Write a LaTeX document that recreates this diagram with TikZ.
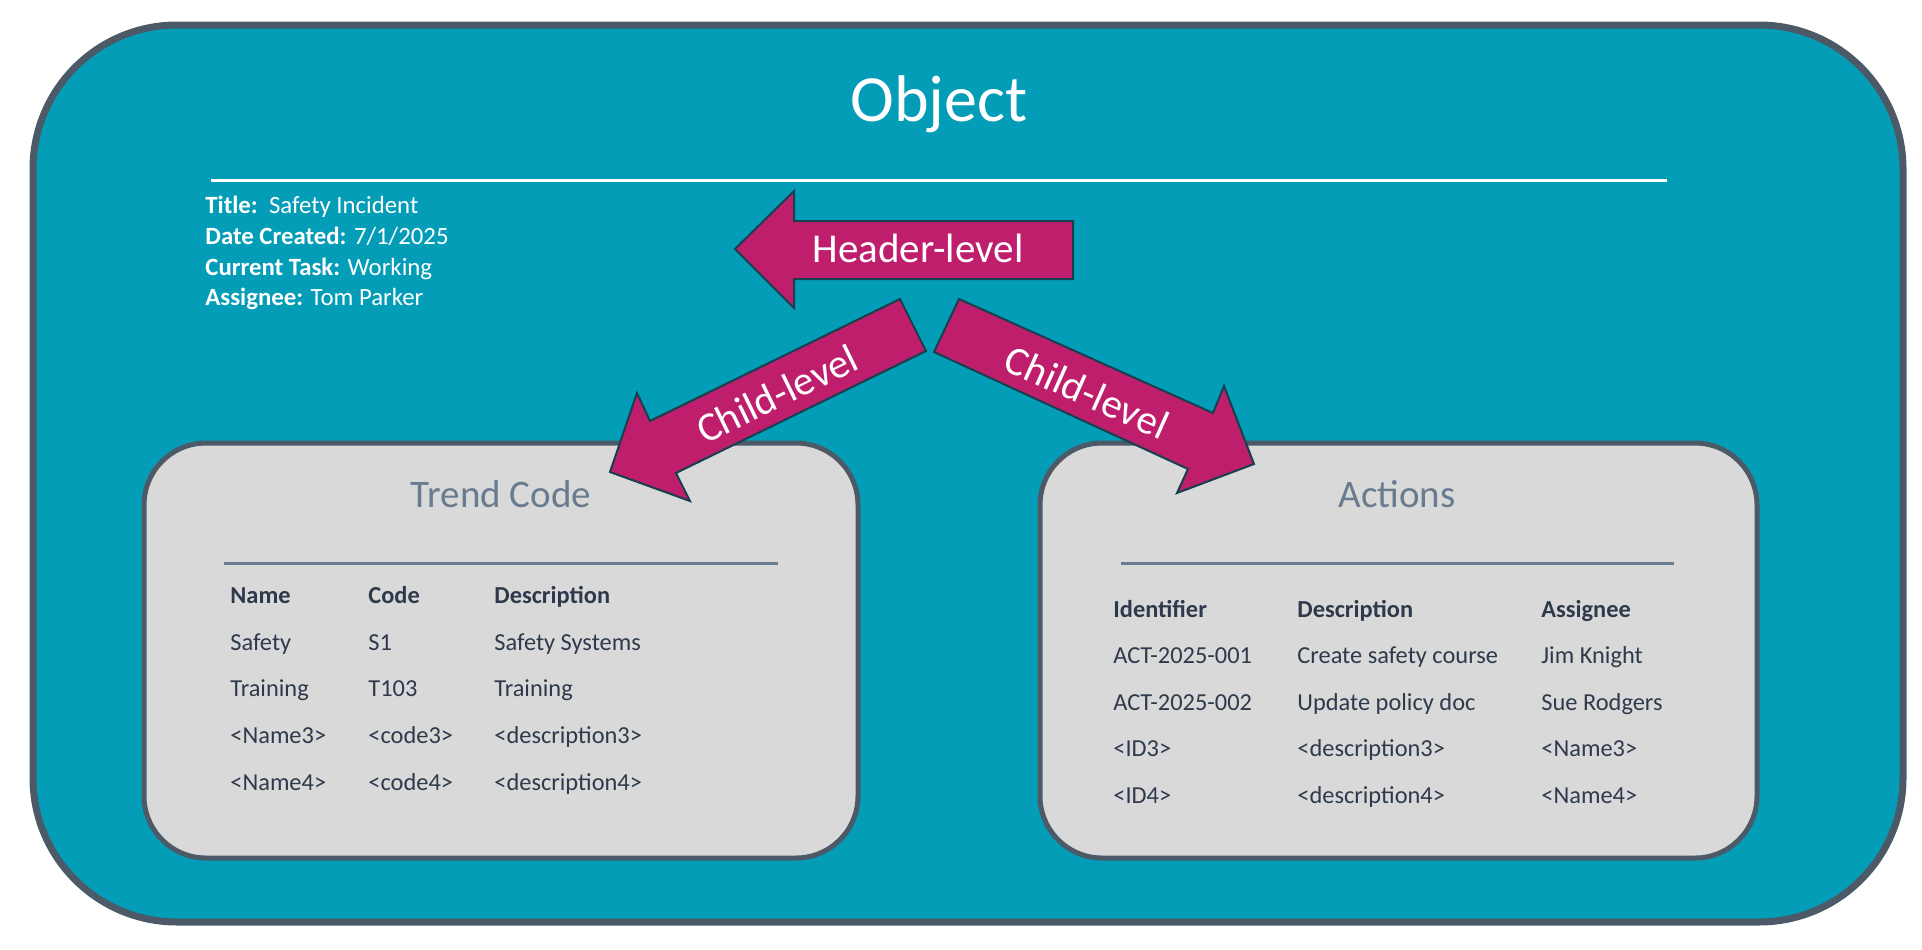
\documentclass[tikz,border=0pt]{standalone}
\usepackage{fontspec}
\setmainfont{Carlito}
\definecolor{tealfill}{HTML}{049DB8}
\definecolor{borderc}{HTML}{4C5A68}
\definecolor{boxfill}{HTML}{D9D9D9}
\definecolor{titlegray}{HTML}{687B8F}
\definecolor{tabtext}{HTML}{2E3A4B}
\definecolor{magent}{HTML}{BE1E6B}
\definecolor{arrowline}{HTML}{17404F}
\begin{document}
\begin{tikzpicture}[x=0.5pt,y=-0.5pt,
  outerbox/.style={draw=borderc,line width=3.5pt,fill=tealfill,rounded corners=72pt},
  innerbox/.style={draw=borderc,line width=2.5pt,fill=boxfill,rounded corners=31pt},
  blockarrow/.style={draw=arrowline,line width=1pt,fill=magent,line join=miter},
  divider/.style={draw=titlegray,line width=1.5pt},
  hdr/.style={anchor=base west,inner sep=0pt,text=white,font=\fontsize{12.4}{14}\selectfont},
  boxtitle/.style={anchor=base,inner sep=0pt,text=titlegray,font=\fontsize{19.5}{22}\selectfont},
  colhead/.style={anchor=base west,inner sep=0pt,text=tabtext,font=\fontsize{12.2}{14}\selectfont\bfseries},
  cell/.style={anchor=base west,inner sep=0pt,text=tabtext,font=\fontsize{12.2}{14}\selectfont},
  arrowtext/.style={inner sep=0pt,text=white,font=\fontsize{20.5}{24}\selectfont}]
\useasboundingbox (0,0) rectangle (1922,949);

% outer object box
\draw[outerbox] (33,25) rectangle (1903,922);
\node[anchor=base,inner sep=0pt,text=white,font=\fontsize{33}{38}\selectfont] (objtitle) at (939,121) {Object};
\draw[white,line width=1.5pt] (211,180) -- (1667,180);

% header info
\node[hdr] (t1) at (205,213) {\textbf{Title:}\ \ Safety Incident};
\node[hdr] (t2) at (205,244) {\textbf{Date Created:} 7/1/2025};
\node[hdr] (t3) at (205,275) {\textbf{Current Task:} Working};
\node[hdr] (t4) at (205,305) {\textbf{Assignee:} Tom Parker};

% inner boxes
\draw[innerbox] (144,443) rectangle (858,858);
\draw[innerbox] (1040,443) rectangle (1757,858);

% Trend Code
\node[boxtitle] (tctitle) at (501,507) {Trend Code};
\draw[divider] (224,563) -- (778,563);
\node[colhead] (tc11) at (230,603) {Name};
\node[colhead] (tc12) at (368,603) {Code};
\node[colhead] (tc13) at (494,603) {Description};
\node[cell] (tc21) at (230,650) {Safety};
\node[cell] (tc22) at (368,650) {S1};
\node[cell] (tc23) at (494,650) {Safety Systems};
\node[cell] (tc31) at (230,696) {Training};
\node[cell] (tc32) at (368,696) {T103};
\node[cell] (tc33) at (494,696) {Training};
\node[cell] (tc41) at (230,743) {<Name3>};
\node[cell] (tc42) at (368,743) {<code3>};
\node[cell] (tc43) at (494,743) {<description3>};
\node[cell] (tc51) at (230,790) {<Name4>};
\node[cell] (tc52) at (368,790) {<code4>};
\node[cell] (tc53) at (494,790) {<description4>};

% Actions
\node[boxtitle] (actitle) at (1397,507) {Actions};
\draw[divider] (1121,563) -- (1674,563);
\node[colhead] (ac11) at (1113,617) {Identifier};
\node[colhead] (ac12) at (1297,617) {Description};
\node[colhead] (ac13) at (1541,617) {Assignee};
\node[cell] (ac21) at (1113,663.5) {ACT-2025-001};
\node[cell] (ac22) at (1297,663.5) {Create safety course};
\node[cell] (ac23) at (1541,663.5) {Jim Knight};
\node[cell] (ac31) at (1113,710) {ACT-2025-002};
\node[cell] (ac32) at (1297,710) {Update policy doc};
\node[cell] (ac33) at (1541,710) {Sue Rodgers};
\node[cell] (ac41) at (1113,756.5) {<ID3>};
\node[cell] (ac42) at (1297,756.5) {<description3>};
\node[cell] (ac43) at (1541,756.5) {<Name3>};
\node[cell] (ac51) at (1113,803) {<ID4>};
\node[cell] (ac52) at (1297,803) {<description4>};
\node[cell] (ac53) at (1541,803) {<Name4>};

% block arrows
\draw[blockarrow] (735,249) -- (794,191) -- (794,221) -- (1073,221) -- (1073,279) -- (794,279) -- (794,308) -- cycle;
\node[arrowtext,anchor=base] (hl) at (918,262) {Header-level};

\draw[blockarrow] (900,299) -- (926,351) -- (676,473) -- (690,501) -- (610,472) -- (637,393) -- (650,421) -- cycle;
\node[arrowtext,rotate=26] (cl1) at (777,394) {Child-level};

\draw[blockarrow] (959,299) -- (1213,413) -- (1224,386) -- (1254,464) -- (1177,493) -- (1188,469) -- (934,352) -- cycle;
\node[arrowtext,rotate=-24] (cl2) at (1087,392) {Child-level};
\end{tikzpicture}
\end{document}
